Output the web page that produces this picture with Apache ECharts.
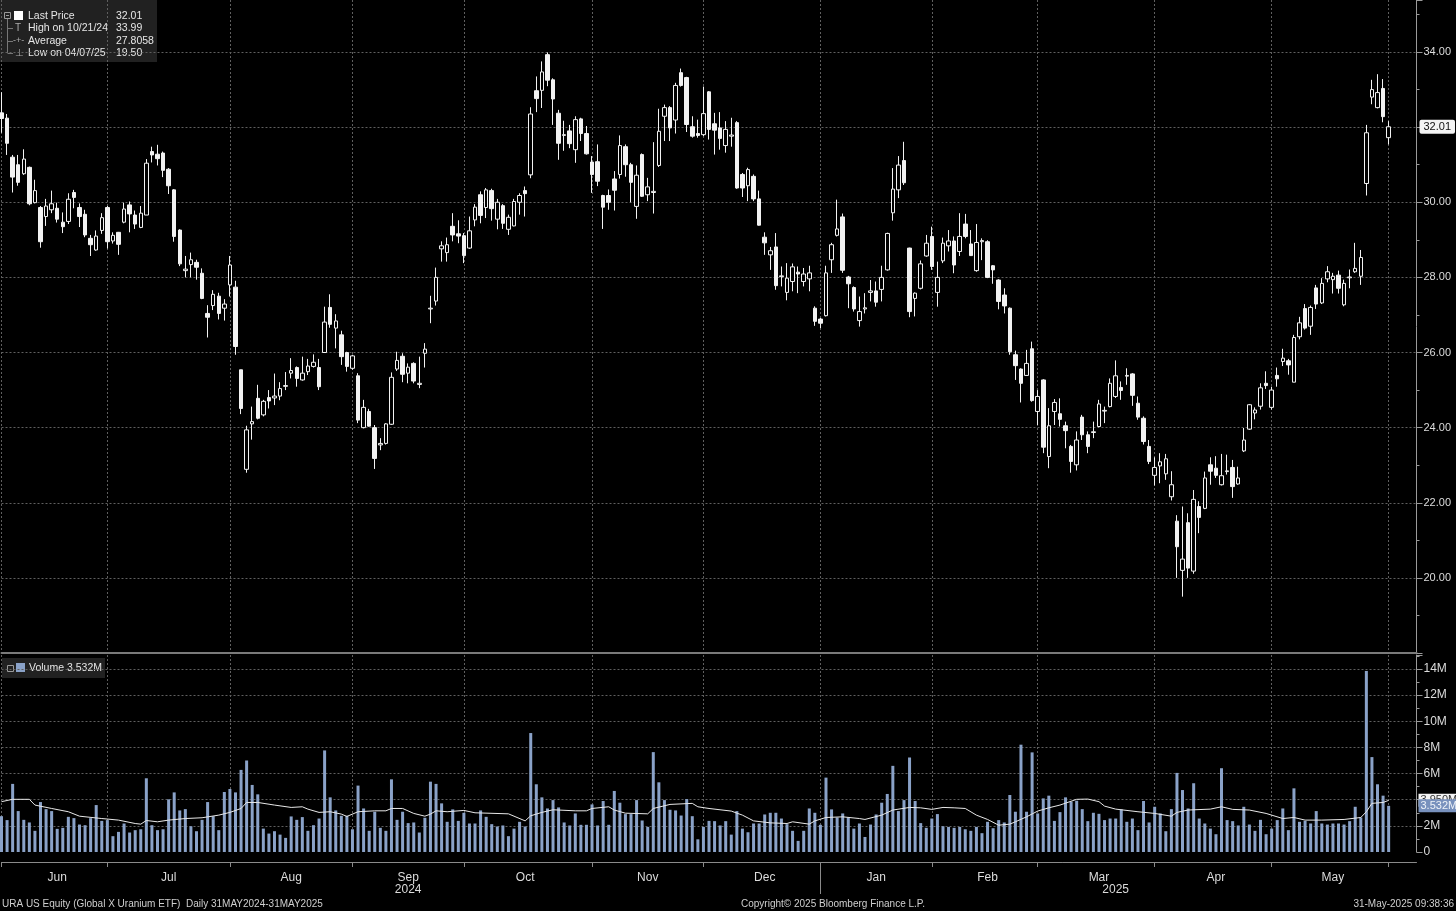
<!DOCTYPE html>
<html><head><meta charset="utf-8">
<script src="https://cdn.jsdelivr.net/npm/echarts@6/dist/echarts.min.js"></script>
<style>html,body{margin:0;padding:0;background:#000;}#c{width:1456px;height:911px;}</style>
</head><body><div id="c"></div>
<script>
// ---------- DATA ----------
const holidays = ['2024-06-19','2024-07-04','2024-09-02','2024-11-28','2024-12-25','2025-01-01','2025-01-09','2025-01-20','2025-02-17','2025-04-18','2025-05-26'];
const padDates = ['2025-06-02','2025-06-03','2025-06-04','2025-06-05','2025-06-06'];

const openP = [32.38,32.24,31.2,31.0,30.76,30.93,29.99,29.86,29.62,29.8,
29.84,29.47,29.49,30.26,29.86,29.68,29.04,28.73,29.25,29.86,
28.97,29.2,29.47,29.93,29.66,29.33,29.66,31.35,31.28,31.31,
30.88,30.33,29.26,28.18,28.34,28.4,28.11,27.04,27.25,27.5,
27.18,27.8,27.74,25.54,22.89,24.1,24.78,24.34,24.8,24.79,
24.84,25.1,25.45,25.6,25.27,25.49,25.63,25.6,26.0,27.2,
26.65,26.47,26.0,25.58,25.38,24.0,24.43,24.0,23.54,23.58,
24.09,25.56,25.9,25.45,25.71,25.15,25.98,27.16,27.37,28.76,
28.66,29.36,29.16,29.11,28.78,29.53,30.2,29.86,30.31,29.55,
29.91,29.28,29.37,30.0,30.31,30.73,32.97,32.98,33.93,33.26,
32.37,31.78,31.9,31.4,32.22,31.83,31.07,31.08,30.18,30.18,
30.62,30.74,31.48,31.0,29.89,31.27,30.2,30.26,30.98,32.29,
32.52,32.19,33.45,33.32,32.01,31.83,31.8,32.94,32.09,31.98,
31.51,31.76,32.12,30.74,30.44,30.69,30.09,29.07,28.6,28.81,
28.02,27.6,27.89,28.14,27.89,27.96,27.18,26.89,26.98,28.47,
29.12,29.61,28.01,27.73,26.85,27.16,27.6,27.64,27.68,28.2,
29.72,30.33,31.11,28.78,27.44,27.71,28.57,29.09,27.6,28.44,
28.84,28.97,28.69,29.42,28.89,28.18,28.95,28.95,28.31,27.93,
27.53,27.18,25.94,25.56,25.39,26.1,24.43,25.27,23.23,24.43,
24.37,24.05,23.5,23.01,24.28,23.81,23.87,24.03,24.44,24.56,
24.83,25.07,25.37,25.43,24.65,24.25,23.5,22.73,22.98,22.77,
22.16,21.51,20.2,21.47,20.18,21.9,21.85,23.01,22.92,22.48,
22.83,22.94,22.5,23.38,23.96,24.39,24.57,25.18,24.54,25.39,
25.76,25.78,25.21,26.42,27.17,26.7,27.72,27.32,27.96,27.94,
28.06,27.27,27.99,28.15,28.03,30.5,32.8,32.52,33.03,31.72];

const highP = [32.93,32.35,31.26,31.26,31.41,30.95,30.6,29.9,30.09,30.31,
29.99,29.73,30.24,30.33,29.97,29.8,29.13,29.25,29.71,29.9,
29.2,29.21,29.99,30.02,29.78,29.9,31.15,31.48,31.53,31.35,
30.91,30.35,29.28,28.57,28.66,28.47,28.24,27.26,27.66,27.59,
27.42,28.57,27.91,25.54,24.05,24.56,25.14,24.74,25.0,25.44,
25.21,25.48,25.85,25.63,25.89,25.83,25.95,25.83,27.22,27.55,
27.02,26.58,26.02,25.94,25.45,24.74,24.5,24.07,23.72,24.12,
25.47,26.02,25.98,25.71,25.74,25.89,26.25,27.51,28.26,28.96,
29.06,29.71,29.52,29.18,29.62,29.95,30.29,30.38,30.36,30.09,
29.95,29.67,30.09,30.24,30.42,32.53,33.35,33.75,33.99,33.3,
32.46,32.17,32.06,32.29,32.25,32.03,31.23,31.54,30.2,30.34,
30.83,31.78,31.54,31.05,30.98,31.3,30.65,31.6,32.49,32.6,
32.56,33.18,33.56,33.34,32.29,32.2,33.08,32.96,32.38,32.4,
32.16,32.25,32.16,30.78,30.92,30.74,30.31,29.2,28.81,29.18,
28.29,28.38,28.37,28.29,28.25,28.31,27.23,26.92,28.31,28.92,
30.07,29.7,28.04,27.76,27.49,27.58,27.93,27.89,28.31,29.19,
30.91,31.23,31.61,28.79,27.6,28.45,29.13,29.35,28.42,29.06,
29.26,29.09,29.71,29.69,29.26,29.42,29.04,28.99,28.33,27.95,
27.71,27.2,26.05,25.58,26.07,26.29,25.0,25.29,24.52,24.76,
24.78,24.16,23.54,23.9,24.34,23.9,24.16,24.74,24.56,25.31,
25.79,25.23,25.58,25.45,24.83,24.3,23.67,23.21,23.32,23.3,
22.84,21.67,21.9,21.72,22.34,22.04,22.83,23.21,23.24,23.3,
23.28,23.14,22.96,23.99,24.63,24.54,25.18,25.5,25.09,25.6,
26.1,25.83,26.47,26.95,27.29,27.25,27.8,27.98,28.3,28.12,
28.18,27.94,28.21,28.92,28.73,32.06,33.26,33.41,33.28,32.16];

const lowP = [31.85,31.26,30.26,30.44,30.73,29.92,29.97,28.79,29.37,29.71,
29.46,29.18,29.42,29.84,29.34,29.07,28.57,28.71,29.16,28.77,
28.9,28.6,29.44,29.2,29.29,29.31,29.66,31.06,30.98,30.67,
30.22,28.95,28.3,28.0,28.0,27.94,27.42,26.4,27.13,26.88,
26.85,27.49,25.94,24.36,22.8,23.68,24.22,24.3,24.51,24.6,
24.73,25.0,25.31,25.09,25.25,25.4,25.6,25.0,26.0,26.66,
26.11,25.67,25.49,25.54,24.12,23.98,24.03,22.9,23.4,23.55,
24.07,25.51,25.21,25.18,25.18,25.05,25.6,26.78,27.25,28.42,
28.42,28.96,28.91,28.38,28.76,29.36,29.44,29.58,29.51,29.28,
29.29,29.13,29.36,29.67,29.62,30.64,32.4,32.51,33.09,32.06,
31.13,31.37,31.44,31.05,31.63,31.27,30.25,30.43,29.29,29.8,
29.78,30.63,30.68,30.0,29.56,30.14,30.03,29.7,30.94,31.63,
31.63,31.83,33.08,31.87,31.72,31.72,31.76,31.67,31.27,31.4,
31.32,31.48,30.36,30.14,30.03,30.03,29.38,28.6,28.2,27.67,
27.76,27.39,27.63,27.58,27.76,27.63,26.71,26.65,26.96,28.12,
29.09,28.12,27.18,27.09,26.69,27.04,27.36,27.22,27.36,28.18,
29.51,30.11,30.46,26.94,26.96,27.68,28.55,28.2,27.22,28.38,
28.69,28.11,28.57,29.04,28.57,28.15,28.46,27.98,27.83,27.15,
27.04,25.94,25.27,24.67,25.38,24.69,24.07,23.32,22.92,24.07,
24.03,23.45,22.8,22.86,23.67,23.32,23.72,24.01,24.12,24.54,
24.79,24.74,25.14,24.58,24.21,23.55,23.03,22.46,22.52,22.61,
22.06,20.0,19.5,20.0,20.11,21.19,21.83,22.48,22.66,22.46,
22.75,22.13,22.48,23.35,23.94,24.22,24.48,25.03,24.48,25.09,
25.64,25.41,25.21,26.35,26.61,26.47,27.16,27.29,27.87,27.57,
27.57,27.23,27.71,28.12,27.8,30.18,32.61,32.5,32.13,31.54];

const closeP = [32.23,31.57,30.67,30.53,31.15,29.96,30.31,28.95,29.9,29.96,
29.55,29.35,30.08,30.13,29.62,29.13,28.87,29.1,29.59,28.95,
29.12,28.88,29.82,29.69,29.42,29.71,31.04,31.26,31.16,30.85,
30.44,29.09,28.36,28.22,28.47,28.27,27.44,26.94,27.55,27.04,
27.29,28.33,26.16,24.51,23.94,24.16,24.25,24.7,24.71,24.84,
25.04,25.12,25.52,25.31,25.45,25.64,25.74,25.09,26.81,26.75,
26.84,25.89,25.63,25.91,24.2,24.54,24.04,23.18,23.58,24.1,
25.34,25.79,25.42,25.61,25.24,25.18,26.09,27.18,28.0,28.84,
28.87,29.13,29.1,28.58,29.24,29.87,29.65,30.33,29.83,30.0,
29.44,29.6,30.02,30.18,30.23,32.35,32.76,33.47,33.25,32.75,
31.57,31.8,31.56,32.2,31.83,31.29,30.74,30.56,29.87,30.0,
30.32,31.51,31.0,30.53,30.72,30.16,30.41,30.29,31.89,32.52,
31.98,33.11,33.11,32.07,31.76,31.78,32.36,31.94,31.92,31.7,
31.94,31.79,30.38,30.38,30.87,30.09,29.39,28.92,28.71,27.78,
28.04,27.98,28.28,28.09,28.09,28.12,26.83,26.78,28.12,28.87,
29.29,28.19,27.83,27.16,27.09,27.19,27.64,27.34,28.0,29.17,
30.35,30.99,30.52,27.09,27.58,28.36,28.91,28.29,28.0,28.91,
28.97,28.33,29.09,29.09,28.58,28.93,28.98,28.0,28.2,27.36,
27.24,26.02,25.65,25.18,25.71,24.72,24.83,23.48,24.05,24.67,
24.22,23.92,23.1,23.67,23.81,23.5,23.89,24.63,24.46,25.18,
25.38,24.99,25.39,24.86,24.28,23.63,23.1,22.94,23.09,23.17,
22.48,20.83,20.5,20.26,22.09,21.61,22.66,22.84,22.73,22.72,
22.85,22.43,22.66,23.67,24.61,24.47,25.06,25.12,25.0,25.3,
25.85,25.67,26.4,26.79,26.65,27.2,27.29,27.84,28.15,28.03,
27.71,27.84,28.01,28.24,28.53,31.85,33.0,32.92,32.28,32.01];

// volume in millions of shares
const volumeM = [2.74,2.44,5.21,3.13,2.46,2.26,1.62,3.82,3.28,3.13,
1.77,1.85,2.69,2.59,2.1,2.05,2.59,3.59,2.38,2.44,
1.21,1.54,2.18,1.49,1.67,1.74,5.64,2.05,1.67,1.74,
4.03,4.56,3.18,3.28,1.97,1.59,2.46,3.82,2.74,1.67,
4.59,4.82,4.56,6.28,7.0,5.13,4.41,1.79,1.41,1.59,
1.33,1.08,2.72,2.46,2.67,1.62,2.05,2.56,7.77,4.18,
3.18,2.77,2.77,1.74,5.08,3.33,1.62,3.08,1.85,1.62,
5.56,2.46,3.08,2.21,2.26,1.49,2.62,5.38,5.21,3.72,
2.31,3.26,2.38,3.0,2.18,2.18,3.18,2.69,2.13,1.95,
2.03,1.21,1.79,2.31,1.95,9.1,5.18,4.18,3.33,3.97,
3.41,2.26,2.03,2.95,2.08,2.08,3.64,2.03,3.9,2.08,
4.67,3.77,2.9,2.9,3.97,2.41,1.92,7.64,5.33,3.97,
3.23,3.18,2.79,4.05,2.74,0.97,1.92,2.38,2.36,2.03,
2.36,1.33,3.13,1.79,1.51,2.18,2.18,2.87,3.0,3.0,
2.56,2.13,1.62,0.85,1.62,3.33,3.0,2.08,5.69,3.26,
2.64,2.95,2.64,1.79,2.18,1.15,2.1,2.87,3.77,4.44,
6.59,3.13,3.97,7.23,3.9,2.21,1.85,2.56,2.9,1.97,
1.92,1.85,1.92,1.74,1.62,1.92,1.44,2.31,1.82,2.44,
2.26,4.36,3.08,8.21,3.08,7.62,2.95,4.1,4.31,2.38,
3.05,4.18,3.85,3.92,3.28,2.36,3.0,2.92,2.44,2.56,
2.56,3.26,2.31,2.56,1.67,3.9,2.26,3.46,2.95,1.59,
3.28,6.05,4.74,3.33,5.26,2.56,2.18,1.79,1.36,6.41,
2.44,2.36,2.03,3.46,2.1,1.62,2.46,1.36,1.79,2.44,
3.33,1.67,4.87,2.31,2.38,2.18,3.13,2.18,2.1,2.18,
2.18,2.1,2.36,3.46,2.64,13.85,7.26,5.18,4.31,3.532];

// volume moving-average line, read at these bar indices
const maIdx = [0,2,5,6,9,12,14,18,21,24,25,26,28,30,33,36,39,41,43,44,46,49,52,54,55,57,59,61,62,64,67,69,70,72,74,76,77,78,80,83,85,91,94,95,97,99,103,105,106,109,110,112,116,117,120,124,125,127,131,133,135,138,141,142,145,146,148,151,154,155,158,160,163,165,167,169,171,173,175,177,179,181,182,184,186,188,190,193,195,197,198,200,204,207,210,211,213,217,219,221,224,227,230,232,234,237,241,244,245,246,248,249];
const maVal = [3.85,4.03,4.03,3.59,3.33,3.08,2.74,2.56,2.44,2.18,2.13,2.41,2.31,2.44,2.56,2.62,2.82,3.03,3.33,3.79,3.79,3.59,3.41,3.46,3.28,3.03,3.08,2.9,2.72,3.08,3.15,3.15,3.33,3.33,2.95,2.74,2.9,3.15,3.08,3.18,3.0,2.92,2.38,2.77,3.03,3.23,3.15,3.15,3.33,3.46,3.21,2.97,2.92,3.33,3.64,3.72,3.46,3.33,3.13,2.82,2.38,2.23,2.18,2.31,2.13,2.38,2.64,2.69,2.56,2.49,2.82,3.21,3.41,3.38,3.26,3.41,3.38,3.33,2.82,2.49,2.05,2.13,2.31,2.69,3.13,3.38,3.59,4.03,4.05,3.85,3.51,3.28,3.08,2.95,2.74,3.03,3.21,3.28,3.46,3.26,3.21,2.95,2.56,2.64,2.44,2.44,2.49,2.64,3.08,3.72,3.79,3.95];

// tick labels
const monthNames = ['Jun','Jul','Aug','Sep','Oct','Nov','Dec','Jan','Feb','Mar','Apr','May'];
const monthLabelIdx = [10,30,52,73,94,116,137,157,177,197,218,239];
const yearNames = ['2024','2025'];
const yearLabelIdx = [73,200];
const legendLabels = ['Last Price','High on 10/21/24','Average','Low on 04/07/25'];
const legendValues = ['32.01','33.99','27.8058','19.50'];
const footerLeft = 'URA US Equity (Global X Uranium ETF)  Daily 31MAY2024-31MAY2025';
const footerCenter = 'Copyright\u00A9 2025 Bloomberg Finance L.P.';
const footerRight = '31-May-2025 09:38:36';

// ---------- BUILD ----------
function buildDates(){
  const out=[]; let t=Date.UTC(2024,4,31); const end=Date.UTC(2025,4,30);
  while(t<=end){ const d=new Date(t); const s=d.toISOString().slice(0,10); const wd=d.getUTCDay();
    if(wd!==0&&wd!==6&&holidays.indexOf(s)<0) out.push(s); t+=86400000; }
  return out;
}
const dates = buildDates();
const cats = dates.concat(padDates);
const monthEnd = new Set();
for(let i=0;i<dates.length;i++){ if(i===dates.length-1 || dates[i].slice(0,7)!==dates[i+1].slice(0,7)) monthEnd.add(i); }
let yearEndIdx = -1;
for(let i=0;i<dates.length-1;i++){ if(dates[i].slice(0,4)!==dates[i+1].slice(0,4)) yearEndIdx=i; }

const ohlc = openP.map((o,i)=>[o,closeP[i],lowP[i],highP[i]]);
const maSeries = cats.map(()=> '-');
maIdx.forEach((ix,k)=>{ maSeries[ix]=maVal[k]; });
const lastClose = closeP[closeP.length-1];
const lastVol = volumeM[volumeM.length-1];
const lastMA = maVal[maVal.length-1];

const gridStyle = {color:'#5f5f5f', type:[2,2], width:1};
const txt = '#dcdcdc';
const F = '"Liberation Sans", Arial, sans-serif';
const FN = '"Liberation Sans Narrow", "Liberation Sans", Arial, sans-serif';
const gridLeft = 1.5, gridRight = 39.5;

const legendGraphics = [
  {type:'rect', shape:{x:0,y:0,width:157,height:62}, style:{fill:'rgba(36,36,36,0.92)'}},
  {type:'rect', shape:{x:4.5,y:12.5,width:6,height:6}, style:{fill:'none',stroke:'#9a9a9a',lineWidth:1}},
  {type:'line', shape:{x1:6,y1:15.5,x2:9,y2:15.5}, style:{stroke:'#9a9a9a',lineWidth:1}},
  {type:'rect', shape:{x:14,y:11,width:9,height:9}, style:{fill:'#ffffff'}},
  {type:'line', shape:{x1:7.5,y1:19,x2:7.5,y2:53}, style:{stroke:'#777',lineWidth:1}},
  {type:'line', shape:{x1:7.5,y1:28.5,x2:13,y2:28.5}, style:{stroke:'#777',lineWidth:1}},
  {type:'line', shape:{x1:7.5,y1:41.5,x2:13,y2:41.5}, style:{stroke:'#777',lineWidth:1}},
  {type:'line', shape:{x1:7.5,y1:53.5,x2:13,y2:53.5}, style:{stroke:'#777',lineWidth:1}},
  {type:'text', x:15, y:28, style:{text:'T', fill:'#aaa', font:'10px '+F, verticalAlign:'middle'}},
  {type:'text', x:13, y:41, style:{text:'-+-', fill:'#aaa', font:'9px '+F, verticalAlign:'middle'}},
  {type:'text', x:15, y:53, style:{text:'\u22A5', fill:'#aaa', font:'10px '+F, verticalAlign:'middle'}}
];
const rowsY = [16,28,41,53];
legendLabels.forEach((t,k)=>{
  legendGraphics.push({type:'text', x:28, y:rowsY[k], style:{text:t, fill:'#e6e6e6', font:'10.5px '+F, verticalAlign:'middle'}});
  legendGraphics.push({type:'text', x:116, y:rowsY[k], style:{text:legendValues[k], fill:'#e6e6e6', font:'10.5px '+F, verticalAlign:'middle'}});
});
const volLegend = [
  {type:'rect', shape:{x:2,y:658,width:103,height:20}, style:{fill:'rgba(36,36,36,0.92)'}},
  {type:'rect', shape:{x:7.5,y:665.5,width:6,height:6}, style:{fill:'none',stroke:'#9a9a9a',lineWidth:1}},
  {type:'rect', shape:{x:16,y:663,width:9,height:9}, style:{fill:'#8aa2c8'}},
  {type:'text', x:29, y:668, style:{text:'Volume '+lastVol.toFixed(3)+'M', fill:'#e6e6e6', font:'10.5px '+F, verticalAlign:'middle'}}
];
const footer = [
  {type:'text', x:2, y:904, style:{text:footerLeft, fill:'#cfcfcf', font:'10px '+FN, verticalAlign:'middle'}},
  {type:'text', x:833, y:904, style:{text:footerCenter, fill:'#cfcfcf', font:'10px '+FN, verticalAlign:'middle', align:'center'}},
  {type:'text', x:1454, y:904, style:{text:footerRight, fill:'#cfcfcf', font:'10px '+FN, verticalAlign:'middle', align:'right'}}
];

const option = {
  backgroundColor:'#000',
  animation:false,
  grid:[
    {left:gridLeft, right:gridRight, top:0, height:653},
    {left:gridLeft, right:gridRight, top:655, height:197}
  ],
  xAxis:[
    {gridIndex:0, type:'category', data:cats, boundaryGap:false,
     axisLine:{show:true, onZero:false, lineStyle:{color:'#7a7a7a', width:2}},
     axisTick:{show:false}, axisLabel:{show:false},
     splitLine:{show:true, interval:(i)=>monthEnd.has(i), lineStyle:gridStyle}},
    {gridIndex:1, type:'category', data:cats, boundaryGap:false, position:'bottom', offset:10,
     axisLine:{show:true, onZero:false, lineStyle:{color:'#8a8a8a'}},
     axisTick:{show:true, interval:(i)=>monthEnd.has(i), length:5, lineStyle:{color:'#8a8a8a'}},
     axisLabel:{show:true, interval:(i)=>monthLabelIdx.indexOf(i)>=0,
       formatter:(v,i)=>monthNames[monthLabelIdx.indexOf(i)] || '', color:txt, fontFamily:FN, fontSize:12, margin:10},
     splitLine:{show:true, interval:(i)=>monthEnd.has(i), lineStyle:gridStyle}},
    {gridIndex:1, type:'category', data:cats, boundaryGap:false, position:'bottom', offset:10,
     axisLine:{show:false, onZero:false},
     axisTick:{show:true, interval:(i)=>i===yearEndIdx, length:32, lineStyle:{color:'#8a8a8a'}},
     axisLabel:{show:true, interval:(i)=>yearLabelIdx.indexOf(i)>=0,
       formatter:(v,i)=>yearNames[yearLabelIdx.indexOf(i)] || '', color:txt, fontFamily:FN, fontSize:12, margin:22},
     splitLine:{show:false}}
  ],
  yAxis:[
    {gridIndex:0, type:'value', position:'right', min:18, max:35.385, interval:2, scale:false,
     axisLine:{show:true, lineStyle:{color:'#9a9a9a'}},
     axisTick:{show:true, length:6, lineStyle:{color:'#9a9a9a'}},
     minorTick:{show:true, splitNumber:2, length:3, lineStyle:{color:'#9a9a9a'}},
     axisLabel:{color:txt, fontFamily:F, fontSize:11, margin:7, showMinLabel:false, showMaxLabel:false,
       formatter:(v)=>v.toFixed(2)},
     splitLine:{show:true, showMinLine:false, showMaxLine:false, lineStyle:gridStyle}},
    {gridIndex:1, type:'value', position:'right', min:0, max:15.07, interval:2,
     axisLine:{show:true, lineStyle:{color:'#9a9a9a'}},
     axisTick:{show:true, length:6, lineStyle:{color:'#9a9a9a'}},
     minorTick:{show:true, splitNumber:2, length:3, lineStyle:{color:'#9a9a9a'}},
     axisLabel:{color:txt, fontFamily:FN, fontSize:12, margin:7, showMaxLabel:false,
       formatter:(v)=> v===0 ? '0' : (v+'M')},
     splitLine:{show:true, showMinLine:false, showMaxLine:false, lineStyle:gridStyle}}
  ],
  series:[
    {type:'candlestick', name:'Last Price', xAxisIndex:0, yAxisIndex:0, data:ohlc, barWidth:4,
     itemStyle:{color:'#000', color0:'#f2f2f2', borderColor:'#f2f2f2', borderColor0:'#f2f2f2', borderWidth:1},
     markLine:{silent:true, symbol:['none','none'], lineStyle:{color:'rgba(0,0,0,0)', width:0},
       label:{show:true, position:'end', formatter:lastClose.toFixed(2), backgroundColor:'#f4f4f4', color:'#111',
         fontFamily:F, fontSize:11, padding:[2,4,1,4], borderRadius:2, distance:3},
       data:[{yAxis:lastClose}]}},
    {type:'bar', name:'Volume', xAxisIndex:1, yAxisIndex:1, data:volumeM, barWidth:3,
     itemStyle:{color:'#8aa2c8'},
     markLine:{silent:true, symbol:['none','none'], lineStyle:{color:'rgba(0,0,0,0)', width:0},
       data:[
         {yAxis:lastMA, label:{show:true, position:'end', formatter:lastMA.toFixed(3)+'M', backgroundColor:'#f4f4f4', color:'#333',
           fontFamily:FN, fontSize:11, padding:[1,2,1,2], distance:2}},
         {yAxis:lastVol, label:{show:true, position:'end', formatter:lastVol.toFixed(3)+'M', backgroundColor:'#7891bd', color:'#eef2f8',
           fontFamily:FN, fontSize:11, padding:[1,2,1,2], distance:2}}
       ]}},
    {type:'line', name:'Volume MA', xAxisIndex:1, yAxisIndex:1, data:maSeries, connectNulls:true, showSymbol:false, symbol:'none',
     lineStyle:{color:'#e8e8e8', width:1}, z:3}
  ],
  graphic: legendGraphics.concat(volLegend, footer).map(g=>Object.assign({silent:true}, g))
};
const chart = echarts.init(document.getElementById('c'));
chart.setOption(option);
</script>
</body></html>
